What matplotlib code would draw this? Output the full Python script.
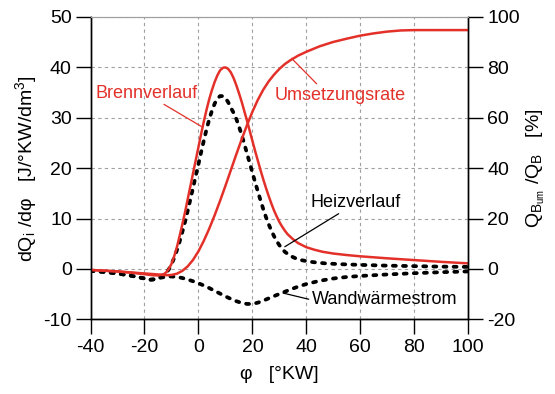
import matplotlib
matplotlib.use("Agg")
import matplotlib.pyplot as plt

plt.rcParams['font.family'] = ['Liberation Sans', 'DejaVu Sans']
plt.rcParams['mathtext.fontset'] = 'custom'
plt.rcParams['mathtext.rm'] = 'Liberation Sans'
plt.rcParams['mathtext.it'] = 'Liberation Sans:italic'
plt.rcParams['axes.unicode_minus'] = False

RED = '#e3312a'

# Brennverlauf dQ/dphi [J/°KW/dm3]
brenn_phi = [-40, -35, -30, -25, -20, -17, -15, -13, -12, -11, -10, -9, -8, -7, -6, -5, -4, -3,
             -2, -1, 0, 1, 2, 3, 4, 5, 6, 7, 8, 9, 10, 11, 12, 13, 14, 15, 16, 17, 18, 19, 20,
             21, 22, 23, 24, 25, 26, 27, 28, 29, 30, 31, 32, 33, 35, 37, 40, 43, 46, 50, 55,
             60, 70, 80, 90, 100]
brenn = [-0.2, -0.35, -0.5, -0.75, -1.05, -1.25, -1.3, -1.1, -0.7, 0.0, 1.0, 2.5, 4.3, 6.5,
         8.8, 11.2, 13.8, 16.4, 19.0, 21.6, 24.2, 26.8, 29.3, 31.6, 33.7, 35.5, 37.1, 38.4,
         39.4, 39.9, 40.0, 39.7, 39.0, 37.9, 36.5, 34.9, 33.2, 31.3, 29.4, 27.4, 25.4, 23.4,
         21.5, 19.6, 17.8, 16.1, 14.5, 13.0, 11.6, 10.4, 9.3, 8.4, 7.6, 6.9, 5.9, 5.1, 4.3,
         3.8, 3.4, 3.05, 2.75, 2.5, 2.1, 1.75, 1.4, 1.1]

# Umsetzungsrate Q_B,um / Q_B [%]
umsatz_phi = [-40, -30, -20, -15, -12, -10, -8, -6, -4, -2, 0, 2, 4, 6, 8, 10, 12, 14, 16, 18,
              20, 22, 24, 26, 28, 30, 32, 34, 37, 40, 45, 50, 55, 60, 65, 70, 75, 80, 90, 100]
umsatz = [-0.4, -1.0, -1.8, -2.2, -2.5, -2.4, -1.9, -0.8, 1.0, 3.6, 7.0, 11.2, 16.0, 21.3,
          27.0, 33.0, 39.2, 45.4, 51.4, 57.1, 62.4, 67.1, 71.1, 74.4, 77.1, 79.4, 81.3, 82.8,
          84.7, 86.2, 88.4, 90.1, 91.4, 92.6, 93.5, 94.2, 94.65, 94.8, 94.8, 94.8]

# Heizverlauf [J/°KW/dm3]
heiz_phi = [-40, -35, -30, -25, -20, -18, -16, -14, -12, -11, -10, -9, -8, -7, -6, -5, -4, -3,
            -2, -1, 0, 1, 2, 3, 4, 5, 6, 7, 8, 9, 10, 11, 12, 13, 14, 15, 16, 17, 18, 19, 20,
            21, 22, 23, 24, 25, 26, 27, 28, 29, 30, 31, 32, 34, 36, 38, 41, 44, 47, 52, 60,
            70, 80, 90, 100]
heiz = [-0.4, -0.6, -0.9, -1.35, -1.9, -2.15, -2.05, -1.6, -0.8, -0.1, 0.9, 2.2, 3.7, 5.4,
        7.3, 9.3, 11.5, 13.8, 16.1, 18.5, 20.8, 23.2, 25.5, 27.7, 29.7, 31.4, 32.8, 33.8, 34.3,
        34.3, 33.9, 33.1, 32.0, 31.0, 29.8, 28.3, 26.6, 24.8, 22.9, 21.0, 19.1, 17.2, 15.4,
        13.6, 11.9, 10.3, 8.9, 7.6, 6.5, 5.5, 4.7, 4.0, 3.4, 2.6, 2.1, 1.75, 1.45, 1.25, 1.1,
        0.95, 0.8, 0.65, 0.55, 0.45, 0.4]

# Wandwaermestrom [J/°KW/dm3]
wand_phi = [-40, -35, -30, -25, -20, -18, -16, -14, -12, -10, -8, -6, -4, -2, 0, 2, 4, 6, 8,
            10, 12, 14, 16, 18, 20, 22, 24, 26, 28, 31, 34, 37, 40, 45, 50, 55, 60, 70, 80,
            90, 100]
wand = [-0.4, -0.6, -0.9, -1.35, -1.9, -2.15, -2.05, -1.75, -1.55, -1.5, -1.6, -1.8, -2.1,
        -2.45, -2.85, -3.3, -3.8, -4.35, -4.9, -5.45, -5.95, -6.4, -6.75, -6.95, -6.95, -6.7,
        -6.3, -5.85, -5.4, -4.75, -4.1, -3.5, -3.0, -2.35, -1.9, -1.6, -1.4, -1.1, -0.85,
        -0.65, -0.5]

fig = plt.figure(figsize=(5.55, 3.94), dpi=100)
ax = fig.add_axes([0.1631, 0.1896, 0.6807, 0.7673])
ax2 = ax.twinx()

dots = dict(color='black', lw=2.7, linestyle=(0, (0.8, 1.9)), dash_capstyle='round')
ax.plot(wand_phi, wand, **dots)
ax.plot(heiz_phi, heiz, **dots)
ax.plot(brenn_phi, brenn, color=RED, lw=1.8)
ax2.plot(umsatz_phi, umsatz, color=RED, lw=1.8)

ax.set_xlim(-40, 100)
ax.set_ylim(-10, 50)
ax2.set_ylim(-20, 100)
ax.set_xticks(range(-40, 101, 20))
ax.set_yticks(range(-10, 51, 10))
ax2.set_yticks(range(-20, 101, 20))

ax.grid(True, color='#a0a0a0', lw=0.8, linestyle=(0, (3, 3)))
for a in (ax, ax2):
    a.spines['top'].set_color('#a0a0a0')
    a.spines['top'].set_linewidth(0.8)
    a.spines[['left', 'right', 'bottom']].set_linewidth(1.0)
ax.tick_params(axis='both', direction='out', length=10.5, width=1.0, labelsize=14, pad=3)
ax.tick_params(axis='x', pad=4)
ax2.tick_params(axis='y', direction='out', length=10.5, width=1.0, labelsize=14, pad=3)

ax.set_xlabel('φ   [°KW]', fontsize=14, labelpad=7)
ax.set_ylabel('dQ$_\\mathrm{i}$ /dφ   [J/°KW/dm$^\\mathrm{3}$]', fontsize=14, labelpad=3)
ax2.set_ylabel('Q$_{\\mathrm{B}_\\mathrm{um}}$ /Q$_\\mathrm{B}$   [%]', fontsize=14,
               rotation=90, labelpad=4)

lbl = dict(fontsize=13, va='center', ha='left')
ax.annotate('Brennverlauf', xy=(1.3, 28.2), xytext=(-38, 34.9), color=RED,
            arrowprops=dict(arrowstyle='-', color=RED, lw=0.9, shrinkA=0, shrinkB=0,
                            relpos=(0.62, 0.0)), **lbl)
ax.annotate('Umsetzungsrate', xy=(34.5, 41.8), xytext=(28.3, 34.5), color=RED,
            arrowprops=dict(arrowstyle='-', color=RED, lw=0.9, shrinkA=0, shrinkB=0,
                            relpos=(0.34, 1.0)), **lbl)
ax.annotate('Heizverlauf', xy=(32.0, 4.4), xytext=(41.6, 13.2), color='black',
            arrowprops=dict(arrowstyle='-', color='black', lw=0.9, shrinkA=0, shrinkB=0,
                            relpos=(0.36, 0.0)), **lbl)
ax.annotate('Wandwärmestrom', xy=(31.4, -4.8), xytext=(41.9, -6.15), color='black',
            arrowprops=dict(arrowstyle='-', color='black', lw=0.9, shrinkA=0, shrinkB=0,
                            relpos=(0.0, 0.5)), **lbl)

fig.savefig('out.png', dpi=100)
